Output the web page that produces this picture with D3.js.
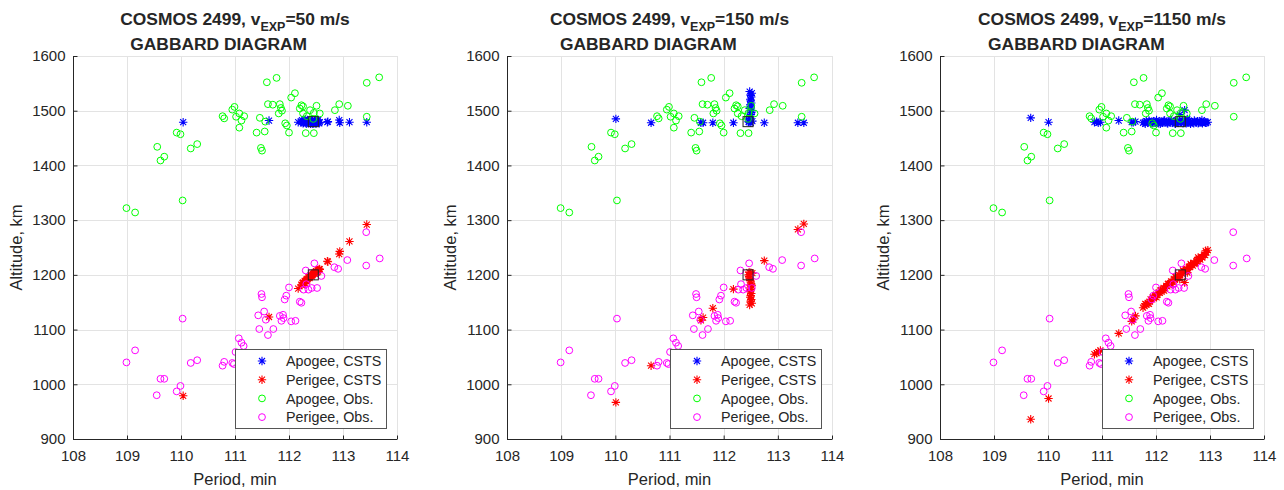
<!DOCTYPE html>
<html><head><meta charset="utf-8">
<script src="https://cdn.jsdelivr.net/npm/d3@7"></script>
<style>
body{margin:0;background:#fff;}
text{font-family:"Liberation Sans",Arial,Helvetica,sans-serif;fill:#262626;}
</style></head>
<body><svg id="c" width="1284" height="490"></svg>
<script>
// ---------- data ----------
const periodTicks = [108,109,110,111,112,113,114];
const altTicks = [900,1000,1100,1200,1300,1400,1500,1600];
const velocities = ["50","150","1150"];
const legendLabels = ["Apogee, CSTS","Perigee, CSTS","Apogee, Obs.","Perigee, Obs."];

// observed fragments (same in all panels)
const obsApoPeriod = [108.99,109.15,110.03,109.56,109.62,109.69,109.92,109.99,110.18,110.30,
  110.77,110.80,110.95,110.99,111.02,111.08,111.17,111.12,111.08,111.40,111.55,111.48,111.50,
  111.46,111.56,111.59,111.77,111.61,111.70,111.83,111.85,111.87,111.81,111.93,111.96,112.00,
  112.04,112.11,112.20,112.23,112.26,112.26,112.39,112.51,112.46,112.57,112.33,112.45,112.31,
  112.46,112.85,112.93,113.09,113.44,113.67,113.44];
const obsApoAlt = [1322,1314,1336,1434,1409,1416,1460,1457,1431,1439,
  1490,1486,1502,1507,1489,1495,1490,1482,1469,1460,1462,1432,1427,
  1487,1480,1552,1560,1512,1511,1512,1505,1500,1495,1477,1473,1460,
  1524,1532,1504,1510,1508,1495,1501,1509,1496,1495,1490,1485,1459,
  1459,1501,1512,1509,1551,1561,1489];
const obsPeriPeriod = [108.99,109.15,110.03,109.55,109.62,109.69,109.92,109.99,110.18,110.30,
  110.77,110.80,110.95,110.98,111.01,111.07,111.12,111.16,111.43,111.45,111.49,111.50,111.54,
  111.57,111.61,111.71,111.83,111.86,111.89,111.90,111.92,111.95,112.00,112.04,112.12,112.20,
  112.23,112.27,112.31,112.32,112.42,112.47,112.52,112.60,112.36,112.84,112.91,113.08,113.43,
  113.68,113.43];
const obsPeriAlt = [1040,1062,1120,980,1010,1010,987,997,1039,1044,
  1034,1041,1039,1037,1059,1084,1076,1070,1126,1101,1165,1159,1133,
  1118,1090,1101,1125,1116,1127,1121,1155,1162,1177,1115,1116,1151,
  1149,1173,1208,1183,1176,1221,1176,1198,1173,1214,1211,1227,1217,
  1230,1278];

// parent object
const parentPeriod = [112.45];
const parentApogee = [1480];
const parentPerigee = [1200];

// CSTS simulated fragments, v=50 m/s
const p50Period = [110.04,111.63,112.17,112.23,112.25,112.27,112.29,112.31,112.33,112.35,112.37,
  112.39,112.41,112.43,112.45,112.47,112.49,112.51,112.53,112.55,112.57,112.30,112.44,112.52,
  112.71,112.72,112.93,112.94,113.12,113.44,
  112.24,112.26,112.28,112.32,112.34,112.36,112.38,112.40,112.42,112.46,112.48,112.50,112.54,112.56];
const p50Apogee = [1479,1482,1479,1479,1480,1478,1481,1479,1480,1478,1481,
  1480,1479,1482,1478,1480,1481,1479,1480,1478,1479,1484,1476,1483,
  1479,1480,1483,1478,1479,1479,
  1483,1477,1482,1476,1483,1477,1482,1476,1483,1477,1482,1476,1483,1477];
const p50Perigee = [979,1123,1175,1182,1185,1186,1189,1189,1192,1193,1195,
  1196,1199,1199,1202,1203,1205,1206,1208,1209,1210,1184,1201,1204,
  1225,1224,1238,1243,1261,1292,
  1181,1186,1185,1191,1190,1196,1194,1199,1197,1204,1202,1207,1206,1211];

// CSTS simulated fragments, v=150 m/s
const p150Period = [110.01,110.66,111.58,111.62,111.80,112.18,112.75,113.37,113.48,
  112.46,112.47,112.48,112.49,112.50,112.51,112.52,112.48,112.50,112.49,112.51,112.50,
  112.49,112.51,112.50,112.52,112.48,112.50,112.47,112.53];
const p150Apogee = [1485,1478,1478,1478,1478,1478,1478,1478,1478,
  1480,1483,1486,1490,1493,1497,1500,1504,1507,1511,1514,1518,
  1521,1525,1528,1532,1535,1478,1479,1481];
const p150Perigee = [967,1034,1117,1122,1139,1174,1226,1283,1293,
  1200,1197,1194,1190,1187,1183,1180,1176,1173,1169,1166,1162,
  1159,1155,1152,1148,1145,1204,1205,1203];

// CSTS simulated fragments, v=1150 m/s
const p1150Period = [109.68,110.01,110.86,110.90,110.93,110.97,111.31,111.55,111.58,111.62,
  111.76,111.79,111.82,111.85,111.88,111.90,111.93,111.95,111.98,112.00,112.02,112.05,112.07,
  112.09,112.12,112.14,112.16,112.19,112.21,112.23,112.26,112.28,112.30,112.33,112.35,112.37,
  112.40,112.42,112.44,112.47,112.49,112.51,112.54,112.56,112.58,112.61,112.63,112.65,112.68,
  112.70,112.72,112.75,112.77,112.79,112.82,112.84,112.86,112.89,112.91,112.93,112.96,
  112.53,112.44,112.58,
  111.80,111.87,111.94,112.01,112.08,112.15,112.22,112.29,112.36,112.43,112.50,112.57,112.64,
  112.71,112.78,112.85,112.92];
const p1150Apogee = [1487,1479,1479,1480,1478,1479,1482,1479,1479,1480,
  1478,1479,1481,1478,1480,1477,1479,1481,1478,1480,1479,1477,1481,
  1479,1478,1480,1482,1479,1477,1480,1479,1481,1478,1480,1477,1479,
  1481,1478,1480,1479,1482,1478,1480,1477,1479,1481,1478,1480,1479,
  1477,1480,1479,1481,1478,1480,1479,1477,1480,1479,1478,1479,
  1501,1493,1485,
  1476,1482,1477,1483,1476,1482,1477,1483,1476,1482,1477,1483,1476,
  1482,1477,1483,1478];
const p1150Perigee = [936,974,1055,1057,1059,1062,1093,1115,1118,1125,
  1140,1143,1146,1148,1151,1155,1155,1159,1160,1164,1163,1168,1167,
  1172,1172,1176,1175,1180,1179,1184,1184,1188,1187,1192,1191,1196,
  1195,1200,1199,1203,1202,1207,1206,1211,1210,1214,1214,1218,1217,
  1222,1221,1225,1225,1229,1228,1233,1232,1237,1236,1241,1245,
  1186,1192,1204,
  1147,1147,1159,1159,1171,1171,1183,1183,1196,1196,1208,1208,1220,
  1220,1232,1232,1244];

const panels = [
  {v: velocities[0], period: p50Period, apo: p50Apogee, peri: p50Perigee, x0: 73, x1: 397},
  {v: velocities[1], period: p150Period, apo: p150Apogee, peri: p150Perigee, x0: 507, x1: 832},
  {v: velocities[2], period: p1150Period, apo: p1150Apogee, peri: p1150Perigee, x0: 940, x1: 1264}
];

// ---------- drawing ----------
const svg = d3.select("#c");
const Y0 = 56, Y1 = 439;
const COL = {apoC:"#0000ff", periC:"#ff0000", apoO:"#00ff00", periO:"#ff00ff"};
const starPath = "M-4.2,0H4.2M0,-4.2V4.2M-3,-3L3,3M-3,3L3,-3";

function drawStars(g, xs, ys, x, y, color){
  g.selectAll(null).data(d3.range(xs.length)).enter().append("path")
    .attr("d", starPath)
    .attr("transform", i => `translate(${x(xs[i])},${y(ys[i])})`)
    .attr("fill","none").attr("stroke", color).attr("stroke-width",1.1);
}
function drawCircles(g, xs, ys, x, y, color){
  g.selectAll(null).data(d3.range(xs.length)).enter().append("circle")
    .attr("cx", i => x(xs[i])).attr("cy", i => y(ys[i])).attr("r",3.4)
    .attr("fill","none").attr("stroke", color).attr("stroke-width",1);
}

panels.forEach(p => {
  const x = d3.scaleLinear().domain([108,114]).range([p.x0, p.x1]);
  const y = d3.scaleLinear().domain([900,1600]).range([Y1, Y0]);
  const g = svg.append("g");

  // grid
  g.append("g").selectAll("line").data(periodTicks).enter().append("line")
    .attr("x1", d => Math.round(x(d))+0.5).attr("x2", d => Math.round(x(d))+0.5)
    .attr("y1", Y0).attr("y2", Y1).attr("stroke","#e3e3e3").attr("stroke-width",1);
  g.append("g").selectAll("line").data(altTicks).enter().append("line")
    .attr("y1", d => Math.round(y(d))+0.5).attr("y2", d => Math.round(y(d))+0.5)
    .attr("x1", p.x0).attr("x2", p.x1).attr("stroke","#e3e3e3").attr("stroke-width",1);

  // axes
  const xa = d3.axisBottom(x).tickValues(periodTicks).tickSize(-4).tickPadding(11).tickFormat(d3.format("d"));
  const ya = d3.axisLeft(y).tickValues(altTicks).tickSize(-4).tickPadding(8).tickFormat(d3.format("d"));
  const gx = g.append("g").attr("transform",`translate(0,${Y1+0.5})`).call(xa);
  const gy = g.append("g").attr("transform",`translate(${p.x0+0.5},0)`).call(ya);
  [gx,gy].forEach(a => {
    a.select(".domain").attr("stroke","#262626").attr("stroke-width",1);
    a.selectAll(".tick line").attr("stroke","#262626");
    a.selectAll(".tick text").attr("font-size",15).attr("fill","#262626")
      .attr("font-family","'Liberation Sans',Arial,sans-serif");
  });
  gx.select(".domain").attr("d", `M${p.x0},0H${p.x1}`);
  gy.select(".domain").attr("d", `M0,${Y0}V${Y1}`);

  // data
  const dg = g.append("g");
  drawStars(dg, p.period, p.apo, x, y, COL.apoC);
  drawStars(dg, p.period, p.peri, x, y, COL.periC);
  drawCircles(dg, obsApoPeriod, obsApoAlt, x, y, COL.apoO);
  drawCircles(dg, obsPeriPeriod, obsPeriAlt, x, y, COL.periO);
  [parentApogee, parentPerigee].forEach(arr => {
    dg.selectAll(null).data(d3.range(arr.length)).enter().append("rect")
      .attr("x", i => x(parentPeriod[i]) - 5).attr("y", i => y(arr[i]) - 5)
      .attr("width",10).attr("height",10).attr("fill","none")
      .attr("stroke","#222").attr("stroke-width",1);
  });

  // labels
  const cx = (p.x0 + p.x1) / 2;
  g.append("text").attr("x", cx).attr("y", 485).attr("text-anchor","middle")
    .attr("font-size",16.5).text("Period, min");
  g.append("text").attr("transform",`translate(${p.x0-51},${(Y0+Y1)/2}) rotate(-90)`)
    .attr("text-anchor","middle").attr("font-size",16.5).text("Altitude, km");

  // title (one text element, two lines)
  const t1 = g.append("text").attr("x", cx).attr("y", 25).attr("text-anchor","middle")
    .attr("font-size",17.4).attr("font-weight","bold").attr("fill","#000");
  t1.append("tspan").text("COSMOS 2499, v");
  t1.append("tspan").attr("dy",6).attr("font-size",12.5).text("EXP");
  t1.append("tspan").attr("dy",-6).text(`=${p.v} m/s`);
  const bb = t1.node().getBBox();
  const l2 = t1.append("tspan").attr("x", bb.x).attr("y", 49.5).attr("text-anchor","middle")
    .text("GABBARD DIAGRAM");
  const w2 = l2.node().getComputedTextLength();
  l2.attr("x", bb.x + 10 + w2 / 2);

  // legend
  const lw = 151, lh = 79;
  const lx = p.x1 - 11 - lw, ly = Y1 - 11 - lh;
  const lg = g.append("g").attr("transform",`translate(${lx},${ly})`);
  lg.append("rect").attr("x",0.5).attr("y",0.5).attr("width",lw).attr("height",lh)
    .attr("fill","#fff").attr("stroke","#555").attr("stroke-width",1);
  const cols = [COL.apoC, COL.periC, COL.apoO, COL.periO];
  legendLabels.forEach((lab, i) => {
    const ry = 12 + i * 18.7;
    if (i < 2) {
      lg.append("path").attr("d", starPath).attr("transform",`translate(27,${ry})`)
        .attr("fill","none").attr("stroke", cols[i]).attr("stroke-width",1.1);
    } else {
      lg.append("circle").attr("cx",27).attr("cy",ry).attr("r",3.4)
        .attr("fill","none").attr("stroke", cols[i]).attr("stroke-width",1);
    }
    lg.append("text").attr("x",51).attr("y",ry).attr("dy","0.36em")
      .attr("font-size",14.3).text(lab);
  });
});
</script></body></html>
